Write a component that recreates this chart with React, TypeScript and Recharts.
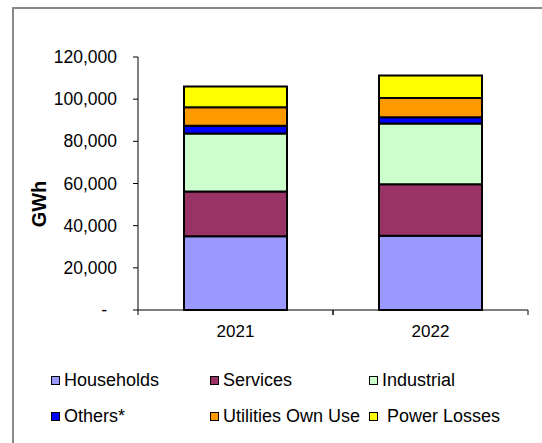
import React from 'react'
import { Bar, BarChart, XAxis, YAxis } from 'recharts'

const years = ['2021', '2022']
const households = [35000, 35200]
const services = [21250, 24400]
const industrial = [27500, 28900]
const others = [3650, 2900]
const utilitiesOwnUse = [8800, 9200]
const powerLosses = [9800, 10650]
const yTicks = [0, 20000, 40000, 60000, 80000, 100000, 120000]

const series = [
    { key: 'households', name: 'Households', values: households, color: '#9999FF' },
    { key: 'services', name: 'Services', values: services, color: '#993366' },
    { key: 'industrial', name: 'Industrial', values: industrial, color: '#CCFFCC' },
    { key: 'others', name: 'Others*', values: others, color: '#0000FF' },
    { key: 'utilities', name: 'Utilities Own Use', values: utilitiesOwnUse, color: '#FF9900' },
    { key: 'losses', name: ' Power Losses', values: powerLosses, color: '#FFFF00' },
]

const data = years.map((year, i) => {
    const row: Record<string, string | number> = { year }
    series.forEach(s => (row[s.key] = s.values[i]))
    return row
})

const font = '"Liberation Sans", Arial, sans-serif'

const YTick = (props: any) => {
    const { x, y, payload } = props
    const zero = payload.value === 0
    return (
        <text x={zero ? x - 10 : x} y={y} dy={'0.35em'} textAnchor={'end'} fontSize={17.5} fill={'#000'} fontFamily={font}>
            {zero ? '-' : payload.value.toLocaleString('en-US')}
        </text>
    )
}

// category label plus the Excel-style boundary ticks on either side of the band
const XTick = (props: any) => {
    const { x, y, payload } = props
    const half = payload.offset || 0
    return (
        <g>
            <line x1={x - half} x2={x - half} y1={y - 10} y2={y - 5} stroke={'#000'} />
            <line x1={x + half} x2={x + half} y1={y - 10} y2={y - 5} stroke={'#000'} />
            <text x={x} y={y + 5} dy={'0.71em'} textAnchor={'middle'} fontSize={17} fill={'#000'} fontFamily={font}>
                {payload.value}
            </text>
        </g>
    )
}

const legendCols = [51, 210, 369]
const legendRows = [380, 416]

const App = () => {
    return (
        <div style={{ position: 'fixed', left: 0, top: 0, width: 542, height: 443, background: '#fff', overflow: 'hidden' }}>
            <div
                style={{
                    position: 'absolute',
                    left: 12,
                    top: 7,
                    width: 600,
                    height: 500,
                    borderLeft: '2px solid #888',
                    borderTop: '2px solid #888',
                }}
            />
            <BarChart
                width={542}
                height={443}
                data={data}
                margin={{ top: 57, right: 14, left: 0, bottom: 0 }}
                style={{ position: 'absolute', left: 0, top: 0 }}
            >
                <XAxis
                    dataKey={'year'}
                    stroke={'#000'}
                    tickLine={false}
                    tickSize={0}
                    tickMargin={10}
                    height={133}
                    interval={0}
                    tick={<XTick />}
                />
                <YAxis
                    width={138}
                    domain={[0, 120000]}
                    ticks={yTicks}
                    interval={0}
                    tickSize={5}
                    tickMargin={16}
                    stroke={'#000'}
                    tick={<YTick />}
                    label={() => (
                        <text
                            x={39}
                            y={204}
                            transform={'rotate(-90 39 204)'}
                            textAnchor={'middle'}
                            dominantBaseline={'central'}
                            fontSize={20}
                            fontWeight={'bold'}
                            fontFamily={font}
                            fill={'#000'}
                        >
                            GWh
                        </text>
                    )}
                />
                {series.map(s => (
                    <Bar
                        key={s.key}
                        dataKey={s.key}
                        name={s.name}
                        stackId={'a'}
                        fill={s.color}
                        stroke={'#000'}
                        strokeWidth={2}
                        barSize={103}
                        isAnimationActive={false}
                    />
                ))}
            </BarChart>
            {series.map((s, i) => (
                <div
                    key={s.key}
                    style={{
                        position: 'absolute',
                        left: legendCols[i % 3],
                        top: legendRows[Math.floor(i / 3)] - 12,
                        height: 24,
                        display: 'flex',
                        alignItems: 'center',
                        fontFamily: font,
                        fontSize: 18,
                        color: '#000',
                        whiteSpace: 'pre',
                    }}
                >
                    <span
                        style={{
                            display: 'inline-block',
                            width: 7,
                            height: 7,
                            background: s.color,
                            border: '1.5px solid #000',
                            marginRight: 4,
                        }}
                    />
                    {s.name}
                </div>
            ))}
        </div>
    )
}

export default App
